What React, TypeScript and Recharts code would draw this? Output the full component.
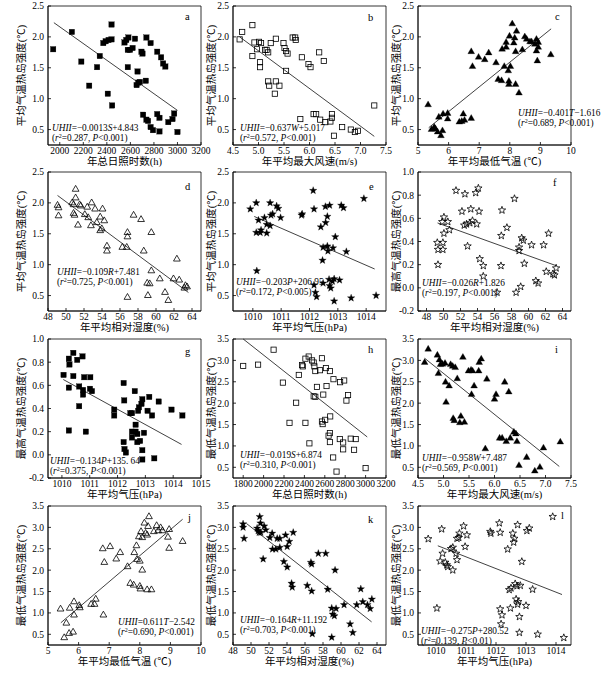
import React from 'react';
import { ScatterChart, Scatter, XAxis, YAxis, ReferenceLine, ReferenceArea } from 'recharts';

// ---- data: [x, y] ----
// a: annual sunshine hours vs mean UHI
const sunMean: [number, number][] = [
  [1944, 1.8], [2103, 2.08], [2183, 1.6], [2250, 1.21], [2317, 1.51], [2340, 1.69], [2370, 1.9],
  [2390, 1.93], [2415, 1.95], [2440, 1.96], [2408, 1.08], [2440, 2.2], [2445, 0.89], [2550, 1.91],
  [2565, 1.95], [2583, 1.99], [2578, 1.79], [2597, 1.79], [2619, 1.82], [2578, 1.51], [2639, 1.97],
  [2661, 1.44], [2653, 1.22], [2667, 1.26], [2681, 1.27], [2694, 1.76], [2703, 1.73], [2736, 1.99],
  [2731, 1.29], [2772, 1.9], [2708, 0.74], [2736, 0.66], [2750, 0.64], [2772, 0.54], [2792, 0.49],
  [2828, 0.75], [2828, 1.76], [2847, 0.69], [2847, 0.47], [2861, 1.67], [2878, 1.57], [2897, 1.52],
  [2922, 0.62], [2958, 0.67], [2972, 0.76], [3000, 0.46],
];
// b: max wind speed vs mean UHI
const windMean: [number, number][] = [
  [4.63, 1.96], [4.68, 2.08], [4.88, 2.19], [4.88, 1.69], [4.92, 1.91], [4.97, 1.8], [5.01, 1.92],
  [5.05, 1.9], [5.03, 1.59], [5.03, 1.51], [5.13, 1.79], [5.16, 1.79], [5.19, 1.75], [5.19, 1.28],
  [5.21, 1.21], [5.24, 1.9], [5.34, 1.97], [5.34, 1.28], [5.32, 1.08], [5.41, 1.21], [5.49, 1.9],
  [5.51, 1.82], [5.54, 1.77], [5.57, 1.73], [5.54, 1.45], [5.67, 1.99], [5.72, 1.99], [5.73, 1.95],
  [5.82, 0.67], [5.85, 1.67], [5.98, 1.56], [6.02, 1.51], [6.08, 0.75], [6.13, 0.75], [6.19, 1.75],
  [6.21, 0.66], [6.28, 1.61], [6.31, 0.62], [6.41, 0.63], [6.44, 0.75], [6.44, 0.69], [6.48, 0.4],
  [6.64, 0.54], [6.81, 0.5], [6.89, 0.46], [6.95, 0.48], [7.27, 0.89],
];
// c: mean min temperature vs mean UHI
const tminMean: [number, number][] = [
  [5.33, 0.9], [5.44, 0.5], [5.53, 0.54], [5.57, 0.51], [5.64, 0.46], [5.68, 0.7], [5.75, 0.4],
  [5.8, 0.48], [5.82, 0.75], [5.97, 0.76], [5.97, 0.67], [6.35, 0.62], [6.43, 0.63], [6.48, 0.75],
  [6.52, 0.65], [6.74, 0.68], [6.74, 1.76], [6.78, 1.52], [6.98, 1.67], [7.18, 1.63], [7.31, 1.74],
  [7.55, 1.58], [7.62, 1.31], [7.73, 1.29], [7.75, 1.8], [7.82, 1.52], [7.88, 1.91], [7.88, 1.83],
  [7.95, 1.45], [7.97, 1.28], [7.97, 1.23], [8.02, 1.52], [7.99, 2.01], [8.08, 2.21], [8.13, 1.9],
  [8.16, 1.98], [8.19, 1.76], [8.22, 2.09], [8.19, 1.23], [8.3, 1.09], [8.41, 1.79], [8.49, 2.0],
  [8.55, 1.96], [8.66, 1.92], [8.71, 1.92], [8.82, 1.88], [8.87, 1.96], [8.87, 1.77], [8.9, 1.61],
  [8.93, 1.83], [8.93, 1.91], [9.34, 1.71],
];
// d: relative humidity vs mean UHI
const rhMean: [number, number][] = [
  [49.06, 1.96], [49.17, 1.92], [49.17, 1.79], [50.69, 2.0], [50.84, 1.97], [50.84, 1.83], [50.95, 1.8],
  [51.07, 2.22], [51.07, 2.08], [51.33, 1.64], [51.52, 1.97], [51.64, 1.95], [52.09, 1.81], [52.36, 1.93],
  [52.47, 1.76], [52.77, 1.63], [52.85, 2.0], [53.23, 1.9], [53.42, 1.68], [53.8, 1.77], [53.8, 1.55],
  [53.98, 1.58], [54.06, 1.9], [54.25, 1.71], [54.55, 1.3], [54.55, 1.22], [56.26, 1.28], [56.75, 1.28],
  [56.83, 1.52], [56.83, 1.45], [56.83, 0.47], [57.51, 1.8], [58.34, 1.73], [58.64, 1.22], [59.02, 0.7],
  [59.1, 0.5], [59.48, 0.9], [59.48, 1.52], [59.3, 0.69], [60.42, 0.77], [61.0, 0.55], [61.37, 0.42],
  [61.94, 0.77], [62.32, 1.09], [62.58, 0.75], [63.27, 0.66], [63.45, 0.64], [63.15, 0.62],
];
// e: air pressure vs mean UHI
const presMean: [number, number][] = [
  [1009.91, 1.9], [1010.12, 2.0], [1010.12, 1.52], [1010.14, 0.9], [1010.2, 1.72], [1010.26, 1.52],
  [1010.29, 1.56], [1010.41, 1.76], [1010.49, 1.65], [1010.49, 1.51], [1010.61, 1.63], [1010.61, 2.0],
  [1010.64, 1.8], [1010.7, 1.82], [1010.84, 1.95], [1010.9, 1.91], [1010.98, 1.76], [1011.72, 1.8],
  [1011.74, 1.82], [1012.13, 2.2], [1012.16, 1.9], [1012.16, 0.67], [1012.21, 0.55], [1012.25, 0.48],
  [1012.4, 1.61], [1012.46, 1.07], [1012.48, 1.28], [1012.48, 0.7], [1012.56, 1.94], [1012.57, 1.68],
  [1012.63, 1.78], [1012.63, 1.3], [1012.65, 1.22], [1012.69, 0.76], [1012.71, 1.96], [1012.71, 0.66],
  [1012.75, 0.62], [1012.81, 0.73], [1012.83, 1.27], [1012.87, 0.77], [1012.87, 0.41], [1012.91, 1.45],
  [1013.06, 0.75], [1013.12, 1.96], [1013.2, 1.92], [1013.3, 1.21], [1013.47, 0.46], [1013.92, 2.07],
  [1014.35, 0.5],
];
// f: relative humidity vs max UHI
const rhMax: [number, number][] = [
  [49.27, 0.39], [49.35, 0.33], [49.35, 0.2], [49.85, 0.57], [49.93, 0.39], [50.05, 0.61], [50.05, 0.47],
  [49.93, 0.33], [50.51, 0.57], [50.7, 0.5], [51.47, 0.84], [52.17, 0.66], [52.44, 0.54], [52.52, 0.81],
  [52.71, 0.55], [52.83, 0.36], [53.1, 0.56], [53.21, 0.68], [53.41, 0.58], [53.79, 0.82], [53.91, 0.55],
  [54.1, 0.86], [54.18, 0.66], [54.26, 0.25], [54.68, 0.19], [54.68, 0.1], [56.3, -0.04], [56.76, 0.19],
  [56.8, 0.45], [56.88, 0.67], [57.46, 0.52], [58.35, 0.77], [58.89, 0.35], [58.89, 0.32], [58.54, -0.04],
  [59.08, 0.01], [59.2, 0.43], [59.39, 0.41], [59.51, 0.21], [60.36, 0.37], [60.86, 0.06], [61.13, 0.04],
  [61.78, 0.37], [62.09, 0.14], [62.36, 0.47], [62.86, 0.12], [63.05, 0.11], [63.25, 0.17],
];
// g: air pressure vs max UHI
const presMax: [number, number][] = [
  [1010.06, 0.69], [1010.25, 0.83], [1010.27, 0.78], [1010.25, 0.58], [1010.25, 0.21], [1010.41, 0.88],
  [1010.41, 0.68], [1010.55, 0.82], [1010.62, 0.59], [1010.62, 0.42], [1010.74, 0.85], [1010.76, 0.56],
  [1010.76, 0.52], [1010.8, 0.67], [1010.86, 0.2], [1011.01, 0.57], [1011.02, 0.67], [1011.08, 0.55],
  [1011.88, 0.39], [1011.88, 0.34], [1012.22, 0.62], [1012.22, 0.11], [1012.24, 0.47], [1012.25, 0.05],
  [1012.3, 0.02], [1012.46, 0.36], [1012.52, 0.36], [1012.52, 0.2], [1012.52, 0.15], [1012.62, 0.55],
  [1012.65, 0.26], [1012.65, 0.2], [1012.71, 0.11], [1012.71, 0.18], [1012.74, 0.38], [1012.77, 0.41],
  [1012.81, 0.12], [1012.86, 0.44], [1012.89, 0.04], [1012.89, -0.04], [1012.89, 0.48], [1012.95, 0.19],
  [1013.08, 0.38], [1013.14, 0.5], [1013.24, 0.34], [1013.32, -0.03], [1013.48, 0.46], [1013.94, 0.39],
  [1014.33, 0.34],
];
// h: annual sunshine hours vs min UHI
const sunMin: [number, number][] = [
  [1800, 2.87], [1946, 2.9], [2098, 3.25], [2189, 2.48], [2254, 1.54], [2319, 2.01], [2345, 2.66],
  [2377, 2.89], [2384, 2.86], [2410, 3.04], [2410, 1.54], [2442, 3.09], [2449, 1.06], [2475, 3.0],
  [2491, 2.95], [2498, 2.86], [2507, 2.75], [2491, 2.16], [2507, 2.15], [2523, 2.38], [2553, 2.77],
  [2572, 3.05], [2572, 1.57], [2579, 1.51], [2585, 2.2], [2611, 2.82], [2617, 2.4], [2604, 1.61],
  [2637, 1.24], [2650, 2.75], [2653, 1.69], [2650, 1.3], [2650, 1.09], [2685, 2.56], [2682, 0.73],
  [2715, 0.4], [2747, 1.16], [2750, 2.49], [2780, 1.08], [2780, 0.92], [2790, 2.53], [2812, 2.06],
  [2828, 2.19], [2854, 1.17], [2903, 1.16], [2887, 0.91], [3000, 0.48],
];
// i: max wind speed vs min UHI
const windMin: [number, number][] = [
  [4.63, 2.95], [4.7, 3.26], [4.88, 3.12], [4.9, 2.69], [4.92, 3.01], [4.94, 2.9], [4.98, 2.91],
  [5.03, 2.93], [5.04, 2.49], [5.05, 2.02], [5.11, 2.4], [5.14, 2.9], [5.18, 2.86], [5.19, 1.64],
  [5.21, 1.59], [5.23, 2.83], [5.27, 2.57], [5.32, 1.54], [5.34, 1.69], [5.38, 3.07], [5.41, 1.55],
  [5.49, 2.75], [5.54, 2.77], [5.57, 2.75], [5.55, 2.2], [5.6, 2.4], [5.69, 2.75], [5.7, 2.95],
  [5.74, 3.03], [5.82, 0.93], [5.85, 2.56], [6.0, 2.09], [6.03, 2.2], [6.1, 1.18], [6.15, 1.18],
  [6.2, 2.49], [6.23, 1.1], [6.28, 2.26], [6.31, 1.18], [6.38, 1.32], [6.42, 1.28], [6.44, 1.1],
  [6.48, 0.54], [6.63, 0.73], [6.79, 0.41], [6.89, 0.5], [6.96, 0.95], [7.29, 1.09],
];
// j: mean min temperature vs min UHI
const tminMin: [number, number][] = [
  [5.41, 1.09], [5.53, 0.42], [5.6, 0.76], [5.69, 0.52], [5.71, 1.11], [5.82, 0.55], [5.85, 1.26],
  [5.85, 0.95], [6.02, 1.17], [6.04, 1.12], [6.41, 1.2], [6.52, 1.2], [6.56, 1.32], [6.81, 0.95],
  [6.79, 2.5], [6.84, 2.18], [7.03, 2.55], [7.23, 2.26], [7.36, 2.41], [7.6, 2.08], [7.69, 1.69],
  [7.8, 1.65], [7.82, 2.41], [7.89, 2.57], [7.91, 2.25], [7.97, 2.78], [8.0, 1.62], [8.02, 1.56],
  [8.0, 2.21], [8.04, 2.9], [8.08, 2.0], [8.08, 2.76], [8.15, 3.1], [8.19, 2.86], [8.24, 2.82],
  [8.24, 1.54], [8.3, 3.25], [8.27, 3.02], [8.38, 1.54], [8.46, 2.9], [8.55, 3.04], [8.6, 2.92],
  [8.68, 2.99], [8.74, 2.92], [8.92, 2.77], [8.96, 2.95], [8.96, 2.51], [9.4, 2.67],
];
// k: relative humidity vs min UHI
const rhMin: [number, number][] = [
  [49.12, 3.08], [49.12, 3.0], [49.23, 2.74], [50.68, 2.98], [50.79, 2.92], [50.9, 2.88], [50.97, 3.25],
  [51.05, 3.1], [51.09, 2.88], [51.35, 2.26], [51.46, 3.03], [51.64, 2.94], [52.09, 2.76], [52.35, 2.86],
  [52.39, 2.49], [52.76, 2.49], [52.91, 2.74], [53.2, 2.74], [53.2, 2.53], [53.65, 2.2], [53.84, 2.82],
  [54.02, 2.55], [54.02, 2.07], [54.25, 2.67], [54.51, 1.69], [54.58, 1.6], [54.69, 2.88], [56.25, 1.64],
  [56.66, 2.18], [56.74, 2.14], [56.74, 1.51], [56.81, 0.51], [57.48, 2.39], [58.3, 2.39], [58.52, 1.55],
  [58.97, 1.11], [58.97, 0.43], [59.08, 0.97], [59.26, 0.93], [59.34, 2.0], [59.45, 1.1], [60.34, 1.19],
  [61.01, 0.74], [61.31, 0.54], [61.75, 1.19], [62.2, 1.56], [62.42, 1.26], [62.94, 1.19], [63.24, 1.1],
  [63.43, 1.32],
];
// l: air pressure vs min UHI
const presMin: [number, number][] = [
  [1009.74, 2.73], [1010.03, 1.11], [1010.19, 2.96], [1010.14, 2.21], [1010.22, 2.39], [1010.31, 2.18],
  [1010.36, 2.12], [1010.39, 2.08], [1010.5, 2.5], [1010.56, 2.53], [1010.56, 2.0], [1010.67, 2.39],
  [1010.7, 2.24], [1010.7, 2.74], [1010.78, 2.86], [1010.76, 2.76], [1010.92, 3.03], [1010.97, 2.55],
  [1011.03, 2.82], [1011.81, 2.9], [1011.83, 2.86], [1012.11, 3.1], [1012.14, 2.88], [1012.14, 1.09],
  [1012.2, 0.95], [1012.17, 0.74], [1012.39, 2.49], [1012.44, 1.54], [1012.48, 1.11], [1012.5, 1.58],
  [1012.56, 2.86], [1012.59, 2.65], [1012.61, 2.74], [1012.64, 1.68], [1012.67, 1.32], [1012.7, 1.63],
  [1012.72, 3.06], [1012.72, 1.2], [1012.74, 1.26], [1012.81, 1.64], [1012.78, 0.91], [1012.78, 0.54],
  [1012.86, 2.2], [1013.03, 2.92], [1013.0, 1.17], [1013.11, 2.98], [1013.22, 1.55], [1013.39, 0.5],
  [1013.89, 3.25], [1014.26, 0.42],
];

// fitted line end points (as drawn)
const fitA: [number, number][] = [[1950, 2.23], [3000, 0.81]];
const fitB: [number, number][] = [[4.63, 2.0], [7.27, 0.39]];
const fitC: [number, number][] = [[5.35, 0.53], [9.35, 2.13]];
const fitD: [number, number][] = [[49.06, 2.12], [63.6, 0.55]];
const fitE: [number, number][] = [[1010.05, 1.78], [1014.3, 0.93]];
const fitF: [number, number][] = [[49.3, 0.56], [63.3, 0.19]];
const fitG: [number, number][] = [[1010.05, 0.65], [1014.3, 0.09]];
const fitH: [number, number][] = [[1800, 3.5], [3016, 1.21]];
const fitI: [number, number][] = [[4.63, 3.05], [7.27, 0.52]];
const fitJ: [number, number][] = [[5.42, 0.77], [9.4, 3.19]];
const fitK: [number, number][] = [[49.5, 3.09], [63.4, 0.79]];
const fitL: [number, number][] = [[1010.06, 2.57], [1014.2, 1.43]];

// axis ticks
const sunTicksA = [2000, 2200, 2400, 2600, 2800, 3000, 3200];
const sunTicksH = [1800, 2000, 2200, 2400, 2600, 2800, 3000, 3200];
const windTicks = [4.5, 5.0, 5.5, 6.0, 6.5, 7.0, 7.5];
const tminTicks = [5, 6, 7, 8, 9, 10];
const rhTicks = [48, 50, 52, 54, 56, 58, 60, 62, 64];
const presTicks = [1010, 1011, 1012, 1013, 1014];
const presTicksG = [1010, 1011, 1012, 1013, 1014, 1015];
const uhiTicks = [0.5, 1.0, 1.5, 2.0, 2.5];
const uhiMaxTicks = [-0.2, 0.0, 0.2, 0.4, 0.6, 0.8, 1.0];
const uhiMinTicks = [0.5, 1.0, 1.5, 2.0, 2.5, 3.0, 3.5];

const SERIF = "'Liberation Serif', 'Times New Roman', 'Noto Sans CJK SC', serif";

type Kind = 'square' | 'triangle' | 'star';

const makeShape = (kind: Kind, filled: boolean) => (p: any) => {
  const { cx, cy } = p;
  if (cx == null || cy == null) return <g />;
  const fill = filled ? '#000' : 'none';
  const sw = filled ? 0.3 : 0.8;
  if (kind === 'square') {
    const s = filled ? 5.4 : 5.2;
    return <rect x={cx - s / 2} y={cy - s / 2} width={s} height={s} fill={fill} stroke="#000" strokeWidth={sw} />;
  }
  if (kind === 'triangle') {
    const r = 3.9;
    const d = `M${cx},${cy - r}L${cx + r * 0.866},${cy + r * 0.5}L${cx - r * 0.866},${cy + r * 0.5}Z`;
    return <path d={d} fill={fill} stroke="#000" strokeWidth={sw} />;
  }
  const R = 3.9;
  const ri = 1.6;
  let d = '';
  for (let i = 0; i < 10; i++) {
    const rr = i % 2 === 0 ? R : ri;
    const a = -Math.PI / 2 + (i * Math.PI) / 5;
    d += `${i === 0 ? 'M' : 'L'}${cx + rr * Math.cos(a)},${cy + rr * Math.sin(a)}`;
  }
  return <path d={d + 'Z'} fill={fill} stroke="#000" strokeWidth={sw} />;
};

interface PanelDef {
  id: string;
  pts: [number, number][];
  fit: [number, number][];
  xDomain: [number, number];
  xTicks: number[];
  xDigits: number;
  yDomain: [number, number];
  yTicks: number[];
  xTitle: string;
  yTitle: string;
  eqCoef: string;
  eqVar: string;
  eqConst: string;
  r2: string;
  pText: string;
  kind: Kind;
  filled: boolean;
  col: number;
  row: number;
  eqAt: [number, number];
  letterAt: [number, number];
}

const MEAN = '平均气温热岛强度(℃)';
const MAX = '最高气温热岛强度(℃)';
const MIN = '最低气温热岛强度(℃)';

const panels: PanelDef[] = [
  { id: 'a', pts: sunMean, fit: fitA, xDomain: [1900, 3200], xTicks: sunTicksA, xDigits: 0, yDomain: [0.25, 2.5], yTicks: uhiTicks,
    xTitle: '年总日照时数(h)', yTitle: MEAN, eqCoef: '−0.0013', eqVar: 'S', eqConst: '+4.843', r2: '0.287', pText: '<0.001',
    kind: 'square', filled: true, col: 0, row: 0, eqAt: [4, 125], letterAt: [137, 14] },
  { id: 'b', pts: windMean, fit: fitB, xDomain: [4.5, 7.5], xTicks: windTicks, xDigits: 1, yDomain: [0.25, 2.5], yTicks: uhiTicks,
    xTitle: '年平均最大风速(m/s)', yTitle: MEAN, eqCoef: '−0.637', eqVar: 'W', eqConst: '+5.017', r2: '0.572', pText: '<0.001',
    kind: 'square', filled: false, col: 1, row: 0, eqAt: [7, 125], letterAt: [135, 15] },
  { id: 'c', pts: tminMean, fit: fitC, xDomain: [5, 10], xTicks: tminTicks, xDigits: 0, yDomain: [0.25, 2.5], yTicks: uhiTicks,
    xTitle: '年平均最低气温 (℃)', yTitle: MEAN, eqCoef: '−0.401', eqVar: 'T', eqConst: '−1.616', r2: '0.689', pText: '<0.001',
    kind: 'triangle', filled: true, col: 2, row: 0, eqAt: [100, 110], letterAt: [137, 14] },
  { id: 'd', pts: rhMean, fit: fitD, xDomain: [48, 65], xTicks: rhTicks, xDigits: 0, yDomain: [0.25, 2.5], yTicks: uhiTicks,
    xTitle: '年平均相对湿度(%)', yTitle: MEAN, eqCoef: '−0.109', eqVar: 'R', eqConst: '+7.481', r2: '0.725', pText: '<0.001',
    kind: 'triangle', filled: false, col: 0, row: 1, eqAt: [9, 103], letterAt: [137, 18] },
  { id: 'e', pts: presMean, fit: fitE, xDomain: [1009.3, 1014.7], xTicks: presTicks, xDigits: 0, yDomain: [0.25, 2.5], yTicks: uhiTicks,
    xTitle: '年平均气压(hPa)', yTitle: MEAN, eqCoef: '−0.203', eqVar: 'P', eqConst: '+206.95', r2: '0.172', pText: '<0.005',
    kind: 'star', filled: true, col: 1, row: 1, eqAt: [3, 113], letterAt: [136, 18] },
  { id: 'f', pts: rhMax, fit: fitF, xDomain: [47, 65], xTicks: rhTicks, xDigits: 0, yDomain: [-0.2, 1.0], yTicks: uhiMaxTicks,
    xTitle: '年平均相对湿度(%)', yTitle: MAX, eqCoef: '−0.026', eqVar: 'R', eqConst: '+1.826', r2: '0.197', pText: '<0.001',
    kind: 'star', filled: false, col: 2, row: 1, eqAt: [4, 114], letterAt: [135, 14] },
  { id: 'g', pts: presMax, fit: fitG, xDomain: [1009.5, 1015], xTicks: presTicksG, xDigits: 0, yDomain: [-0.2, 1.0], yTicks: uhiMaxTicks,
    xTitle: '年平均气压(hPa)', yTitle: MAX, eqCoef: '−0.134', eqVar: 'P', eqConst: '+135. 64', r2: '0.375', pText: '<0.001',
    kind: 'square', filled: true, col: 0, row: 2, eqAt: [2, 125], letterAt: [137, 16] },
  { id: 'h', pts: sunMin, fit: fitH, xDomain: [1700, 3200], xTicks: sunTicksH, xDigits: 0, yDomain: [0.25, 3.5], yTicks: uhiMinTicks,
    xTitle: '年总日照时数(h)', yTitle: MIN, eqCoef: '−0.019', eqVar: 'S', eqConst: '+6.874', r2: '0.310', pText: '<0.001',
    kind: 'square', filled: false, col: 1, row: 2, eqAt: [7, 119], letterAt: [135, 14] },
  { id: 'i', pts: windMin, fit: fitI, xDomain: [4.5, 7.5], xTicks: windTicks, xDigits: 1, yDomain: [0.25, 3.5], yTicks: uhiMinTicks,
    xTitle: '年平均最大风速(m/s)', yTitle: MIN, eqCoef: '−0.958', eqVar: 'W', eqConst: '+7.487', r2: '0.569', pText: '<0.001',
    kind: 'triangle', filled: true, col: 2, row: 2, eqAt: [4, 122], letterAt: [137, 14] },
  { id: 'j', pts: tminMin, fit: fitJ, xDomain: [5, 10], xTicks: tminTicks, xDigits: 0, yDomain: [0.25, 3.5], yTicks: uhiMinTicks,
    xTitle: '年平均最低气温 (℃)', yTitle: MIN, eqCoef: '0.611', eqVar: 'T', eqConst: '−2.542', r2: '0.690', pText: '<0.001',
    kind: 'triangle', filled: false, col: 0, row: 3, eqAt: [70, 119], letterAt: [140, 15] },
  { id: 'k', pts: rhMin, fit: fitK, xDomain: [48, 65], xTicks: rhTicks, xDigits: 0, yDomain: [0.25, 3.5], yTicks: uhiMinTicks,
    xTitle: '年平均相对湿度(%)', yTitle: MIN, eqCoef: '−0.164', eqVar: 'R', eqConst: '+11.192', r2: '0.703', pText: '<0.001',
    kind: 'star', filled: true, col: 1, row: 3, eqAt: [7, 117], letterAt: [135, 17] },
  { id: 'l', pts: presMin, fit: fitL, xDomain: [1009.4, 1014.5], xTicks: presTicks, xDigits: 0, yDomain: [0.25, 3.5], yTicks: uhiMinTicks,
    xTitle: '年平均气压(hPa)', yTitle: MIN, eqCoef: '−0.275', eqVar: 'P', eqConst: '+280.52', r2: '0.139', pText: '<0.01',
    kind: 'star', filled: false, col: 2, row: 3, eqAt: [3, 128], letterAt: [143, 13] },
];

// plot box layout
const COL_LEFT = [48, 233, 418];
const ROW_TOP = [6, 172, 339, 506];
const Y_TITLE_GAP = [27, 22, 22];
const BOX_W = 153;
const BOX_H = 139;
const Y_AXIS_W = 45;
const PAD_TOP = 5;
const PAD_RIGHT = 22;
const X_AXIS_H = 25;

function Panel({ p }: { p: PanelDef }) {
  const left = COL_LEFT[p.col];
  const top = ROW_TOP[p.row];
  const data = p.pts.map(([x, y]) => ({ x, y }));
  const tickStyle = { fontSize: 9.5, fill: '#000', fontFamily: SERIF };
  return (
    <div style={{ position: 'absolute', left: left - Y_AXIS_W, top: top - PAD_TOP }}>
      <ScatterChart
        width={Y_AXIS_W + BOX_W + PAD_RIGHT}
        height={PAD_TOP + BOX_H + X_AXIS_H}
        margin={{ top: PAD_TOP, right: PAD_RIGHT, bottom: 0, left: 0 }}
      >
        <XAxis
          type="number"
          dataKey="x"
          domain={p.xDomain}
          ticks={p.xTicks}
          interval={0}
          allowDataOverflow
          height={X_AXIS_H}
          tick={tickStyle}
          tickSize={-3}
          tickMargin={5}
          tickLine={{ stroke: '#000', strokeWidth: 0.8 }}
          axisLine={{ stroke: '#000', strokeWidth: 0.8 }}
          tickFormatter={(v: number) => v.toFixed(p.xDigits)}
        />
        <YAxis
          type="number"
          dataKey="y"
          domain={p.yDomain}
          ticks={p.yTicks}
          interval={0}
          allowDataOverflow
          width={Y_AXIS_W}
          tick={tickStyle}
          tickSize={-3}
          tickMargin={7}
          tickLine={{ stroke: '#000', strokeWidth: 0.8 }}
          axisLine={{ stroke: '#000', strokeWidth: 0.8 }}
          tickFormatter={(v: number) => v.toFixed(1)}
        />
        <ReferenceArea
          x1={p.xDomain[0]}
          x2={p.xDomain[1]}
          y1={p.yDomain[0]}
          y2={p.yDomain[1]}
          fill="none"
          stroke="#000"
          strokeWidth={0.8}
          ifOverflow="visible"
        />
        <Scatter data={data} shape={makeShape(p.kind, p.filled)} isAnimationActive={false} />
        <ReferenceLine
          segment={p.fit.map(([x, y]) => ({ x, y }))}
          stroke="#111"
          strokeWidth={0.8}
          ifOverflow="visible"
        />
      </ScatterChart>
    </div>
  );
}

function PanelText({ p }: { p: PanelDef }) {
  const left = COL_LEFT[p.col];
  const top = ROW_TOP[p.row];
  const ex = left + p.eqAt[0];
  const ey = top + p.eqAt[1];
  const ylx = left - Y_TITLE_GAP[p.col];
  const yly = top + BOX_H / 2;
  return (
    <g fontFamily={SERIF} fill="#000">
      <text x={left + p.letterAt[0]} y={top + p.letterAt[1]} fontSize={10.5}>{p.id}</text>
      <text x={ex} y={ey} fontSize={9.3}>
        <tspan fontStyle="italic">UHII</tspan>
        <tspan>={p.eqCoef}</tspan>
        <tspan fontStyle="italic">{p.eqVar}</tspan>
        <tspan>{p.eqConst}</tspan>
      </text>
      <text x={ex} y={ey + 10} fontSize={9.3}>
        <tspan>(</tspan>
        <tspan fontStyle="italic">r</tspan>
        <tspan fontSize={6} dy={-3.5}>2</tspan>
        <tspan dy={3.5}>={p.r2}, </tspan>
        <tspan fontStyle="italic">P</tspan>
        <tspan>{p.pText})</tspan>
      </text>
      <text x={left + BOX_W / 2} y={top + BOX_H + 20} fontSize={10.5} textAnchor="middle">{p.xTitle}</text>
      <text
        x={ylx}
        y={yly}
        fontSize={10.5}
        textAnchor="middle"
        dominantBaseline="central"
        transform={`rotate(-90 ${ylx} ${yly})`}
      >
        {p.yTitle}
      </text>
    </g>
  );
}

export default function App() {
  return (
    <div style={{ position: 'absolute', left: 0, top: 0, width: 605, height: 675, background: '#fff', overflow: 'hidden' }}>
      {panels.map((p) => (
        <Panel key={p.id} p={p} />
      ))}
      <svg width={605} height={675} style={{ position: 'absolute', left: 0, top: 0, pointerEvents: 'none' }}>
        {panels.map((p) => (
          <PanelText key={p.id} p={p} />
        ))}
      </svg>
    </div>
  );
}
